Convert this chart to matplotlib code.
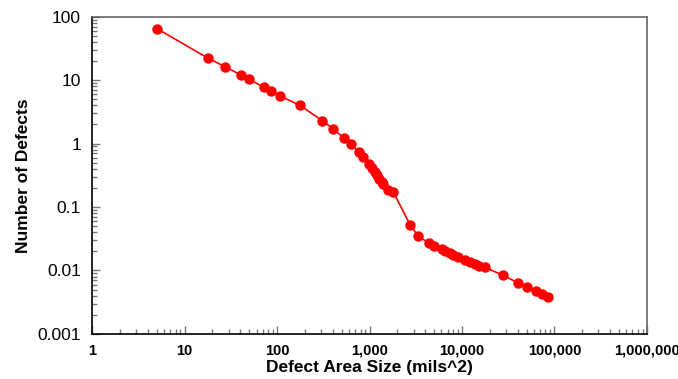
import numpy as np
import matplotlib.pyplot as plt
from matplotlib.ticker import FixedLocator, FixedFormatter, LogLocator, NullFormatter

# defect area (mils^2) and number of defects
area = [5, 17.7, 27.5, 40.4, 50, 72, 86, 108, 177, 308, 403, 530, 631, 764, 857,
        995, 1064, 1147, 1215, 1276, 1355, 1410, 1573, 1811,
        2744, 3375, 4440, 4990, 6040, 6560, 7430, 8070, 9140, 10800, 12200,
        13900, 15400, 17800, 27700, 40200, 50300, 62900, 73100, 84900]
defects = [65, 22.4, 16.2, 12.1, 10.3, 7.7, 6.8, 5.6, 4.0, 2.3, 1.71, 1.22, 0.97,
           0.73, 0.62, 0.475, 0.41, 0.36, 0.32, 0.28, 0.25, 0.23, 0.185, 0.172,
           0.0526, 0.0346, 0.0268, 0.0246, 0.0216, 0.0203, 0.0187, 0.0177, 0.0165,
           0.0146, 0.0135, 0.0125, 0.0118, 0.0112, 0.0084, 0.0064, 0.0055, 0.0047,
           0.00426, 0.00383]

xticks = [1, 10, 100, 1e3, 1e4, 1e5, 1e6]
xlabels = ['1', '10', '100', '1,000', '10,000', '100,000', '1,000,000']
yticks = [0.001, 0.01, 0.1, 1, 10, 100]
ylabels = ['0.001', '0.01', '0.1', '1', '10', '100']

plt.rcParams['font.family'] = ['Liberation Sans', 'DejaVu Sans']

fig = plt.figure(figsize=(6.78, 3.79), dpi=100)
ax = fig.add_axes([0.136, 0.119, 0.818, 0.837])

ax.plot(area, defects, '-', color='#ff0000', lw=1.2, marker='o',
        markersize=6.5, markerfacecolor='#ff0000', markeredgecolor='#ff0000')

ax.set_xscale('log')
ax.set_yscale('log')
ax.set_xlim(1, 1e6)
ax.set_ylim(0.001, 100)

ax.xaxis.set_major_locator(FixedLocator(xticks))
ax.xaxis.set_major_formatter(FixedFormatter(xlabels))
ax.yaxis.set_major_locator(FixedLocator(yticks))
ax.yaxis.set_major_formatter(FixedFormatter(ylabels))
ax.xaxis.set_minor_locator(LogLocator(base=10, subs=np.arange(2, 10), numticks=20))
ax.yaxis.set_minor_locator(LogLocator(base=10, subs=np.arange(2, 10), numticks=20))
ax.xaxis.set_minor_formatter(NullFormatter())
ax.yaxis.set_minor_formatter(NullFormatter())

ax.tick_params(which='major', direction='in', length=6, width=1, color='#777777')
ax.tick_params(which='minor', direction='in', length=3.5, width=1, color='#777777')
ax.tick_params(axis='x', labelsize=10.5, pad=7)
ax.tick_params(axis='y', labelsize=12.5, pad=8)
for lab in ax.get_xticklabels():
    lab.set_fontweight('bold')

for side in ['left', 'bottom']:
    ax.spines[side].set_color('black')
    ax.spines[side].set_linewidth(1.2)
for side in ['top', 'right']:
    ax.spines[side].set_color('#666666')
    ax.spines[side].set_linewidth(1.2)

ax.set_xlabel('Defect Area Size (mils^2)', fontsize=12.5, fontweight='bold', labelpad=2)
ax.set_ylabel('Number of Defects', fontsize=12.5, fontweight='bold', labelpad=5)

fig.savefig('out.png', dpi=100)
